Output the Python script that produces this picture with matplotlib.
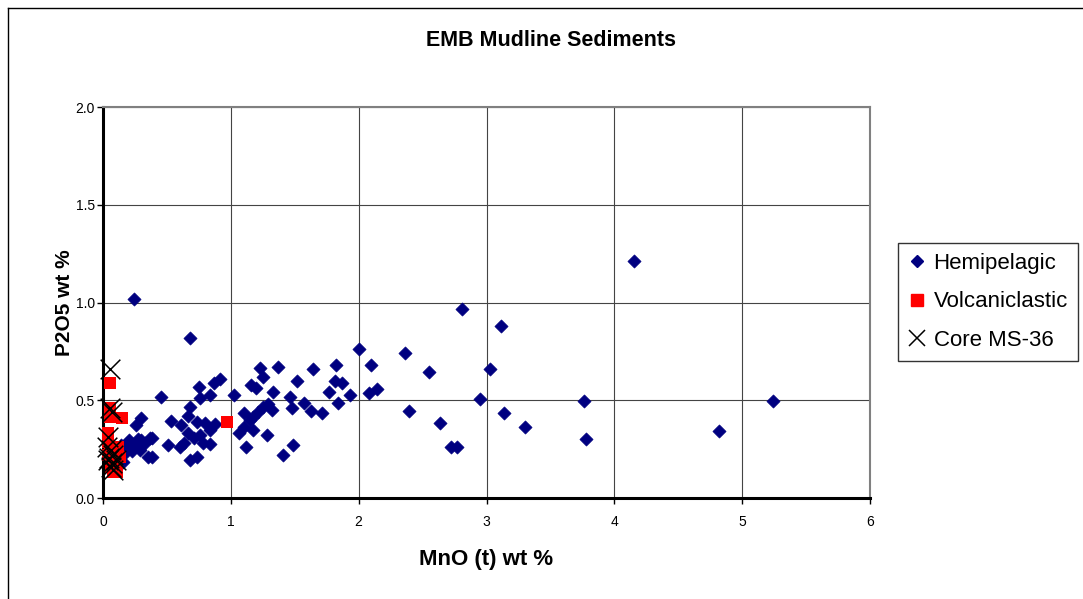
import matplotlib
matplotlib.use("Agg")
import matplotlib.pyplot as plt
from matplotlib.lines import Line2D

plt.rcParams['font.family'] = ['Liberation Sans', 'DejaVu Sans']

# Hemipelagic samples (MnO, P2O5)
hemi_mno = [0.24, 0.68, 4.15, 2.81, 3.11, 3.03, 2.95, 3.14, 3.30, 3.76, 3.78, 4.82, 5.24, 2.72, 2.77,
            2.005, 2.36, 2.10, 2.55, 1.645, 1.82, 1.815, 1.87, 1.77, 1.93, 2.08, 2.145, 1.57, 1.836,
            1.63, 1.71, 2.39, 2.64, 1.52, 1.49,
            0.45, 0.75, 0.87, 0.915, 0.76, 0.84, 0.68, 0.53, 0.61, 0.667, 0.733, 0.80, 0.876, 0.84,
            0.667, 0.76, 0.71, 0.785, 0.837, 0.63, 0.60, 0.51, 0.68, 0.733, 0.38, 0.38, 1.027, 1.105,
            1.23, 1.25, 1.16, 1.20, 1.367, 1.33, 1.46, 1.25, 1.29, 1.32, 1.215, 1.176, 1.15, 1.476,
            1.10, 1.06, 1.176, 1.285, 1.12, 1.41,
            0.30, 0.26, 0.20, 0.22, 0.30, 0.37, 0.29, 0.35, 0.17, 0.16, 0.10, 0.12, 0.14, 0.25,
            0.23, 0.13, 0.19, 0.27, 0.33]
hemi_p2o5 = [1.02, 0.82, 1.21, 0.965, 0.88, 0.66, 0.505, 0.435, 0.363, 0.495, 0.30, 0.343, 0.495, 0.262, 0.262,
             0.76, 0.74, 0.68, 0.646, 0.658, 0.68, 0.60, 0.587, 0.54, 0.525, 0.535, 0.556, 0.487, 0.484,
             0.447, 0.433, 0.447, 0.385, 0.598, 0.27,
             0.517, 0.568, 0.59, 0.607, 0.513, 0.525, 0.467, 0.394, 0.373, 0.42, 0.39, 0.385, 0.378, 0.35,
             0.334, 0.322, 0.305, 0.283, 0.276, 0.28, 0.262, 0.27, 0.194, 0.211, 0.305, 0.211, 0.527, 0.436,
             0.663, 0.617, 0.578, 0.561, 0.668, 0.544, 0.518, 0.467, 0.48, 0.45, 0.44, 0.416, 0.40, 0.459,
             0.365, 0.331, 0.348, 0.322, 0.262, 0.22,
             0.41, 0.373, 0.297, 0.262, 0.297, 0.305, 0.245, 0.211, 0.229, 0.186, 0.22, 0.25, 0.27, 0.27,
             0.24, 0.19, 0.28, 0.30, 0.28]

# Volcaniclastic samples
volc_mno = [0.055, 0.055, 0.055, 0.146, 0.04, 0.04, 0.055, 0.07, 0.08, 0.107, 0.04, 0.13, 0.12, 0.973, 0.06, 0.09]
volc_p2o5 = [0.587, 0.459, 0.416, 0.408, 0.33, 0.288, 0.245, 0.194, 0.134, 0.134, 0.22, 0.211, 0.262, 0.39, 0.16, 0.17]

# Core MS-36
core_mno = [0.055, 0.055, 0.068, 0.04, 0.03, 0.06, 0.08, 0.05, 0.07, 0.10, 0.06, 0.08, 0.04]
core_p2o5 = [0.658, 0.459, 0.44, 0.313, 0.262, 0.245, 0.22, 0.203, 0.177, 0.194, 0.16, 0.143, 0.194]

fig = plt.figure(figsize=(10.83, 5.99), dpi=100)
ax = fig.add_axes([103/1083, 1 - 498/599, (870-103)/1083, (498-107)/599])

ax.scatter(hemi_mno, hemi_p2o5, marker='D', s=46, color='#000080', linewidths=0.4, zorder=3, clip_on=False)
ax.scatter(volc_mno, volc_p2o5, marker='s', s=70, color='#FF0000', linewidths=0, zorder=4, clip_on=False)
ax.scatter(core_mno, core_p2o5, marker='x', s=200, color='black', linewidths=1.1, zorder=5, clip_on=False)

ax.set_xlim(0, 6)
ax.set_ylim(0, 2.0)
ax.set_xticks(range(0, 7))
ax.set_yticks([0.0, 0.5, 1.0, 1.5, 2.0])
ax.set_yticklabels(['0.0', '0.5', '1.0', '1.5', '2.0'])
ax.grid(True, color='#444444', linewidth=0.8)
ax.set_axisbelow(True)
ax.tick_params(direction='out', length=4, width=1, labelsize=10)
ax.tick_params(axis='x', pad=8)
ax.tick_params(axis='y', pad=2)

for side in ['left', 'bottom']:
    ax.spines[side].set_linewidth(2.2)
    ax.spines[side].set_color('black')
for side in ['top', 'right']:
    ax.spines[side].set_linewidth(1.5)
    ax.spines[side].set_color('#808080')

ax.set_xlabel('MnO (t) wt %', fontsize=16, fontweight='bold', labelpad=15)
ax.set_ylabel('P2O5 wt %', fontsize=15, fontweight='bold', labelpad=1)
fig.text(551/1083, 1 - 41/599, 'EMB Mudline Sediments', fontsize=15.5, fontweight='bold',
         ha='center', va='center')

handles = [
    Line2D([], [], linestyle='none', marker='D', color='#000080', markersize=6.5),
    Line2D([], [], linestyle='none', marker='s', color='#FF0000', markersize=8),
    Line2D([], [], linestyle='none', marker='x', color='black', markersize=12, markeredgewidth=1.1),
]
leg = fig.legend(handles, ['Hemipelagic', 'Volcaniclastic', 'Core MS-36'],
                 loc='upper left', bbox_to_anchor=(898/1083, 1 - 243/599),
                 fontsize=16, frameon=True, fancybox=False, edgecolor='black',
                 handlelength=0.8, handletextpad=0.35, labelspacing=0.78,
                 borderpad=0.45, borderaxespad=0)
leg.get_frame().set_linewidth(1.0)

# outer chart border (cropped at right and bottom)
fig.add_artist(Line2D([8/1083, 8/1083], [0, 1 - 8/599], transform=fig.transFigure, color='black', lw=1))
fig.add_artist(Line2D([8/1083, 1], [1 - 8/599, 1 - 8/599], transform=fig.transFigure, color='black', lw=1))

fig.savefig('out.png', dpi=100)
